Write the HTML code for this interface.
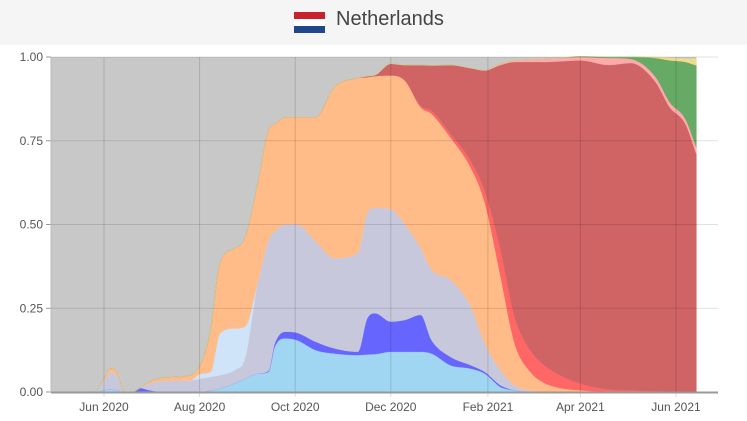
<!DOCTYPE html>
<html><head><meta charset="utf-8"><style>
body{margin:0;width:747px;height:421px;background:#fff;font-family:"Liberation Sans",sans-serif;overflow:hidden}
#hdr{position:absolute;left:0;top:0;width:747px;height:45px;background:#f5f5f5}
#ttl{position:absolute;left:336px;top:8px;font-size:20px;color:#444}
svg{position:absolute;left:0;top:0}
</style></head><body>
<div id="hdr">
<svg width="747" height="45"><rect x="294" y="12" width="31" height="7" fill="#c8202c"/><rect x="294" y="19" width="31" height="7" fill="#fff"/><rect x="294" y="26" width="31" height="7" fill="#21468b"/></svg>
<div id="ttl">Netherlands</div>
</div>
<svg id="chart" width="747" height="421" style="top:0"></svg>
<script>
const dates=["2020-04-28","2020-05-17","2020-05-26","2020-06-01","2020-06-05","2020-06-09","2020-06-14","2020-06-19","2020-06-24","2020-06-30","2020-07-10","2020-07-26","2020-08-02","2020-08-08","2020-08-14","2020-08-24","2020-08-30","2020-09-07","2020-09-14","2020-09-18","2020-09-25","2020-10-02","2020-10-14","2020-10-26","2020-11-10","2020-11-16","2020-11-21","2020-12-01","2020-12-10","2020-12-20","2020-12-27","2021-01-08","2021-01-21","2021-01-30","2021-02-09","2021-02-18","2021-02-28","2021-03-09","2021-03-19","2021-04-01","2021-04-19","2021-05-03","2021-05-19","2021-05-28","2021-06-07","2021-06-14"];
const lightBlue=[0,0,0,.005,.008,.006,0,0,0,0,0,0,0,.005,.01,.027,.04,.055,.06,.135,.16,.155,.125,.115,.11,.112,.113,.12,.12,.12,.115,.08,.07,.055,.015,.005,0,0,0,0,0,0,0,0,0,0];
const blue=[0,0,0,0,0,0,0,0,.012,.005,0,0,0,0,0,0,0,0,.003,.01,.02,.022,.025,.015,.01,.108,.122,.09,.095,.11,.04,.025,.01,.005,.005,0,0,0,0,0,0,0,0,0,0,0];
const lavender=[0,0,0,.03,.05,.045,0,0,0,.02,.033,.035,.04,.04,.04,.04,.06,.27,.39,.335,.32,.323,.30,.27,.295,.315,.315,.335,.285,.20,.21,.23,.175,.085,.045,.015,.005,0,0,0,0,0,0,0,0,0];
const paleBlue=[0,0,0,0,0,0,0,0,0,0,0,0,.015,.015,.125,.123,.095,0,0,0,0,0,0,0,0,0,0,0,0,0,0,0,0,0,0,0,0,0,0,0,0,0,0,0,0,0];
const orange=[0,0,0,.005,.012,.01,0,0,0,.005,.01,.015,.032,.125,.21,.24,.265,.295,.33,.32,.32,.32,.37,.51,.522,.405,.393,.40,.43,.42,.465,.425,.415,.42,.28,.125,.055,.027,.012,.005,0,0,0,0,0,0];
const brightRed=[0,0,0,0,0,0,0,0,0,0,0,0,0,0,0,0,0,0,0,0,0,0,0,0,0,0,0,0,0,.005,.01,.012,.02,.035,.08,.08,.065,.053,.038,.02,.008,.005,.002,.001,0,0];
const darkRed=[0,0,0,0,0,0,0,0,0,0,0,0,0,0,0,0,0,0,0,0,0,0,0,0,0,.003,.003,.035,.046,.121,.135,.204,.277,.36,.551,.76,.86,.905,.937,.965,.968,.977,.923,.849,.80,.71];
const pink=[0,0,0,0,0,0,0,0,0,0,0,0,0,0,0,0,0,0,0,0,0,0,0,0,0,0,0,0,0,0,0,0,0,0,.004,.005,.008,.01,.01,.01,.021,.012,.015,.015,.015,.02];
const green=[0,0,0,0,0,0,0,0,0,0,0,0,0,0,0,0,0,0,0,0,0,0,0,0,0,0,0,0,0,0,0,0,0,0,0,0,0,0,0,.002,.003,.006,.057,.125,.17,.245];
const yellow=[0,0,0,0,0,0,0,0,0,0,0,0,0,0,0,0,0,0,0,0,0,0,0,0,0,0,0,0,0,0,0,0,0,0,0,0,0,0,0,0,0,0,.003,.008,.01,.02];
const yTicks=[0,0.25,0.5,0.75,1];
const yTickLabels=["0.00","0.25","0.50","0.75","1.00"];
const xTicks=["2020-06-01","2020-08-01","2020-10-01","2020-12-01","2021-02-01","2021-04-01","2021-06-01"];
const xTickLabels=["Jun 2020","Aug 2020","Oct 2020","Dec 2020","Feb 2021","Apr 2021","Jun 2021"];
const series=[["light-blue",lightBlue,"#a0d6f2"],["blue",blue,"#6666ff"],["lavender",lavender,"#c8c8dc"],["pale-blue",paleBlue,"#cfe4f8"],["orange",orange,"#ffbb88"],["bright-red",brightRed,"#ff6666"],["dark-red",darkRed,"#d06464"],["pink",pink,"#ffaaaa"],["green",green,"#66aa66"],["yellow",yellow,"#eedd88"]];
const NS="http://www.w3.org/2000/svg",svg=document.getElementById('chart');
const t0=Date.UTC(2020,5,1);
function day(s){const p=s.split('-');return (Date.UTC(+p[0],+p[1]-1,+p[2])-t0)/864e5;}
function X(s){return 104+day(s)*(676-104)/365;}
function Y(v){return 392-v*335;}
function el(t,a){const e=document.createElementNS(NS,t);for(const k in a)e.setAttribute(k,a[k]);svg.appendChild(e);return e;}
// monotone cubic path through points (xs, ys); returns segments after first point
function mono(xs,ys){
  const n=xs.length,d=[],m=[];
  for(let i=0;i<n-1;i++)d.push((ys[i+1]-ys[i])/(xs[i+1]-xs[i]));
  m[0]=d[0];m[n-1]=d[n-2];
  for(let i=1;i<n-1;i++)m[i]=(d[i-1]*d[i]<=0)?0:(d[i-1]+d[i])/2;
  for(let i=0;i<n-1;i++){if(d[i]===0){m[i]=0;m[i+1]=0;continue;}
    const a=m[i]/d[i],b=m[i+1]/d[i],s=a*a+b*b;if(s>9){const t=3/Math.sqrt(s);m[i]=t*a*d[i];m[i+1]=t*b*d[i];}}
  let p='';
  for(let i=0;i<n-1;i++){const h=(xs[i+1]-xs[i])/3;
    p+='C'+(xs[i]+h).toFixed(1)+','+(ys[i]+m[i]*h).toFixed(1)+' '+(xs[i+1]-h).toFixed(1)+','+(ys[i+1]-m[i+1]*h).toFixed(1)+' '+xs[i+1].toFixed(1)+','+ys[i+1].toFixed(1);}
  return p;
}
const xs=dates.map(X);
const x0=xs[0],x1=xs[xs.length-1];
const bg=el('rect',{x:x0,y:Y(1),width:x1-x0,height:Y(0)-Y(1),fill:'#c8c8c8'});


let base=dates.map(()=>0);
series.forEach(([nm,vals,col])=>{
  const top=base.map((b,i)=>b+vals[i]);
  const ty=top.map(Y),by=base.map(Y);
  const rx=xs.slice().reverse(),ry=by.slice().reverse();
  const d='M'+xs[0].toFixed(1)+','+ty[0].toFixed(1)+mono(xs,ty)+'L'+rx[0].toFixed(1)+','+ry[0].toFixed(1)+mono(rx,ry)+'Z';
  const p=el('path',{d:d,fill:col,stroke:col,'stroke-width':0.3});
  
  
  base=top;
});
yTicks.forEach((v,i)=>{
  const g=el('line',{x1:51,x2:718,y1:Y(v),y2:Y(v),stroke:'rgba(0,0,0,0.12)','stroke-width':1});
  
  
  const t=el('text',{x:43,y:Y(v)+4,'text-anchor':'end','font-size':12,fill:'#555'});
  t.textContent=yTickLabels[i];
  
  
  el('line',{x1:46,x2:51,y1:Y(v),y2:Y(v),stroke:'#999'});
});
xTicks.forEach((s,i)=>{
  const g=el('line',{x1:X(s),x2:X(s),y1:Y(1),y2:Y(0)+5,stroke:'rgba(0,0,0,0.14)','stroke-width':1});
  
  
  const t=el('text',{x:X(s),y:411,'text-anchor':'middle','font-size':12,fill:'#555'});
  t.textContent=xTickLabels[i];
  
  
});
const ax=el('line',{x1:51,x2:718,y1:392.5,y2:392.5,stroke:'#999','stroke-width':2});


const ay=el('line',{x1:51,x2:51,y1:Y(1),y2:392,stroke:'#bbb','stroke-width':1});


</script>
</body></html>
